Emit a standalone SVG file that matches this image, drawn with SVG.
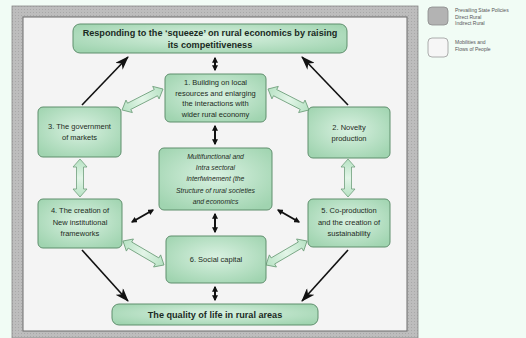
<svg xmlns="http://www.w3.org/2000/svg" width="526" height="338" viewBox="0 0 526 338">
<defs>
<radialGradient id="g" cx="50%" cy="45%" r="65%">
<stop offset="0" stop-color="#d9f1e1"/>
<stop offset="1" stop-color="#a0d4b0"/>
</radialGradient>
<linearGradient id="ga" x1="0" y1="0" x2="1" y2="0">
<stop offset="0" stop-color="#b6e2c3"/>
<stop offset="0.5" stop-color="#e3f5e8"/>
<stop offset="1" stop-color="#b6e2c3"/>
</linearGradient>
<pattern id="hatch" width="3" height="3" patternUnits="userSpaceOnUse">
<rect width="3" height="3" fill="#bdbdbd"/>
<rect width="1" height="1" fill="#a8a8a8"/>
</pattern>
<marker id="dh" viewBox="0 0 10 10" refX="8" refY="5" markerWidth="3" markerHeight="3" orient="auto-start-reverse">
<path d="M0,0 L10,5 L0,10 z" fill="#111"/>
</marker>
<marker id="bigh" viewBox="0 0 14 10" refX="13" refY="5" markerWidth="14" markerHeight="10" orient="auto" markerUnits="userSpaceOnUse">
<path d="M0,0 L14,5 L0,10 L4,5 z" fill="#111"/>
</marker>
</defs>
<style>
.box{fill:url(#g);stroke:#5f8f6d;stroke-width:1}
.t{font-family:"Liberation Sans",Arial,sans-serif;font-size:7.5px;fill:#1d2b22;text-anchor:middle}
.ti{font-style:italic;font-size:6.8px}
.tb{font-family:"Liberation Sans",Arial,sans-serif;font-size:9.1px;font-weight:bold;fill:#1a2a1f;text-anchor:middle}
.lg{font-family:"Liberation Sans",Arial,sans-serif;font-size:5px;fill:#555}
.fat{fill:url(#ga);stroke:#6e9e7b;stroke-width:0.8}
.dbl{stroke:#111;stroke-width:2;fill:none;marker-start:url(#dh);marker-end:url(#dh)}
.one{stroke:#111;stroke-width:1.6;fill:none;marker-end:url(#bigh)}
</style>
<rect width="526" height="338" fill="#f1fcf5"/>
<rect x="12" y="6" width="406" height="332" fill="url(#hatch)" stroke="#888" stroke-width="0.8"/>
<rect x="23" y="17" width="384" height="314" fill="#f4f4f4" stroke="#6a6a6a" stroke-width="1"/>

<g id="legend">
<rect x="428" y="7" width="20" height="18" rx="4" fill="#b3b3b3" stroke="#8a8a8a" stroke-width="0.8"/>
<text class="lg" x="455" y="12">Prevailing State Policies</text>
<text class="lg" x="455" y="18.5">Direct Rural</text>
<text class="lg" x="455" y="25">Indirect Rural</text>
<rect x="428" y="38" width="20" height="19" rx="4" fill="#f6f6f6" stroke="#9a9a9a" stroke-width="0.8"/>
<text class="lg" x="455" y="44">Mobilities and</text>
<text class="lg" x="455" y="51">Flows of People</text>
</g>

<g id="connectors">
<line class="dbl" x1="215" y1="58" x2="215" y2="70"/>
<line class="dbl" x1="215" y1="126" x2="215" y2="144"/>
<line class="dbl" x1="215" y1="214" x2="215" y2="232"/>
<line class="dbl" x1="215" y1="287" x2="215" y2="300"/>
<line class="dbl" x1="153" y1="210" x2="132" y2="222"/>
<line class="dbl" x1="278" y1="210" x2="299" y2="222"/>
<line class="one" x1="82" y1="105" x2="128" y2="57"/>
<line class="one" x1="348" y1="105" x2="302" y2="57"/>
<line class="one" x1="82" y1="250" x2="128" y2="301"/>
<line class="one" x1="348" y1="250" x2="302" y2="301"/>
<g class="fat">
<path transform="translate(163,89) rotate(152.9)" d="M0,0 L8,-7 L8,-3.5 L38,-3.5 L38,-7 L46,0 L38,7 L38,3.5 L8,3.5 L8,7 Z"/>
<path transform="translate(268,89) rotate(27.1)" d="M0,0 L8,-7 L8,-3.5 L38,-3.5 L38,-7 L46,0 L38,7 L38,3.5 L8,3.5 L8,7 Z"/>
<path transform="translate(80,159) rotate(90)" d="M0,0 L8,-7 L8,-3.5 L30,-3.5 L30,-7 L38,0 L30,7 L30,3.5 L8,3.5 L8,7 Z"/>
<path transform="translate(348,159) rotate(90)" d="M0,0 L8,-7 L8,-3.5 L30,-3.5 L30,-7 L38,0 L30,7 L30,3.5 L8,3.5 L8,7 Z"/>
<path transform="translate(123,241) rotate(30.3)" d="M0,0 L8,-7 L8,-3.5 L39.5,-3.5 L39.5,-7 L47.5,0 L39.5,7 L39.5,3.5 L8,3.5 L8,7 Z"/>
<path transform="translate(307,241) rotate(149.7)" d="M0,0 L8,-7 L8,-3.5 L39.5,-3.5 L39.5,-7 L47.5,0 L39.5,7 L39.5,3.5 L8,3.5 L8,7 Z"/>
</g>
</g>

<g id="top">
<rect class="box" x="73" y="24" width="274" height="29" rx="7"/>
<text class="tb" x="210" y="36">Responding to the ‘squeeze’ on rural economics  by raising</text>
<text class="tb" x="210" y="48">its competitiveness</text>
</g>
<g id="n1">
<rect class="box" x="165" y="74" width="101" height="48" rx="5"/>
<text class="t" x="215.5" y="85">1.  Building on local</text>
<text class="t" x="215.5" y="95.5">resources and enlarging</text>
<text class="t" x="215.5" y="106">the interactions with</text>
<text class="t" x="215.5" y="116.5">wider rural economy</text>
</g>
<g id="n3">
<rect class="box" x="38" y="107" width="83" height="50" rx="5"/>
<text class="t" x="79.5" y="129">3.  The government</text>
<text class="t" x="79.5" y="140">of markets</text>
</g>
<g id="n2">
<rect class="box" x="308" y="107" width="82" height="51" rx="5"/>
<text class="t" x="349" y="130">2.  Novelty</text>
<text class="t" x="349" y="141">production</text>
</g>
<g id="center">
<rect class="box" x="159" y="148" width="113" height="62" rx="5"/>
<text class="t ti" x="215.5" y="158.5">Multifunctional and</text>
<text class="t ti" x="215.5" y="169.5">Intra sectoral</text>
<text class="t ti" x="215.5" y="181">interfwinement (the</text>
<text class="t ti" x="215.5" y="192.5">Structure of rural societies</text>
<text class="t ti" x="215.5" y="204">and economics</text>
</g>
<g id="n4">
<rect class="box" x="38" y="199" width="84" height="49" rx="5"/>
<text class="t" x="80" y="213">4.  The creation of</text>
<text class="t" x="80" y="224.5">New institutional</text>
<text class="t" x="80" y="236">frameworks</text>
</g>
<g id="n5">
<rect class="box" x="308" y="199" width="82" height="48" rx="5"/>
<text class="t" x="349" y="213">5.  Co-production</text>
<text class="t" x="349" y="224.5">and the creation of</text>
<text class="t" x="349" y="236">sustainability</text>
</g>
<g id="n6">
<rect class="box" x="166" y="236" width="100" height="47" rx="5"/>
<text class="t" x="216" y="262">6.  Social capital</text>
</g>
<g id="bottom">
<rect class="box" x="112" y="304" width="206" height="21" rx="7"/>
<text class="tb" x="215" y="318">The quality of life in rural areas</text>
</g>
</svg>
